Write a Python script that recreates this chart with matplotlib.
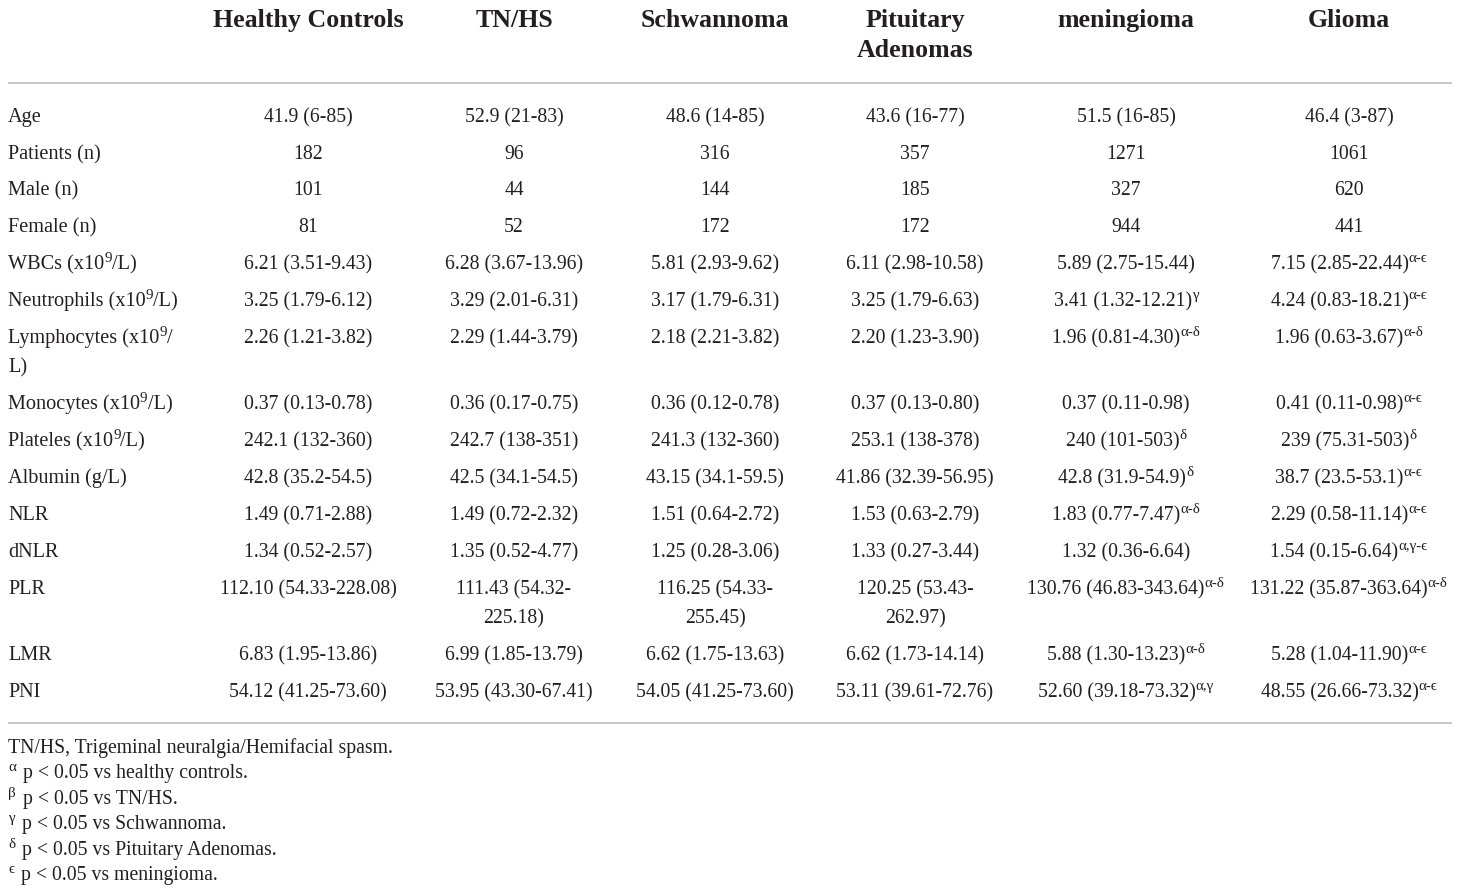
import re
import matplotlib
matplotlib.use("Agg")
import matplotlib.pyplot as plt

# ---------------- data ----------------
groups = ["Healthy Controls", "TN/HS", "Schwannoma", "Pituitary\nAdenomas", "meningioma", "Glioma"]

row_labels = [
    "Age", "Patients (n)", "Male (n)", "Female (n)",
    "WBCs (x10{9}/L)", "Neutrophils (x10{9}/L)", "Lymphocytes (x10{9}/\nL)",
    "Monocytes (x10{9}/L)", "Plateles (x10{9}/L)", "Albumin (g/L)",
    "NLR", "dNLR", "PLR", "LMR", "PNI",
]

healthy = ["41.9 (6-85)", "182", "101", "81", "6.21 (3.51-9.43)", "3.25 (1.79-6.12)",
           "2.26 (1.21-3.82)", "0.37 (0.13-0.78)", "242.1 (132-360)", "42.8 (35.2-54.5)",
           "1.49 (0.71-2.88)", "1.34 (0.52-2.57)", "112.10 (54.33-228.08)",
           "6.83 (1.95-13.86)", "54.12 (41.25-73.60)"]
tnhs = ["52.9 (21-83)", "96", "44", "52", "6.28 (3.67-13.96)", "3.29 (2.01-6.31)",
        "2.29 (1.44-3.79)", "0.36 (0.17-0.75)", "242.7 (138-351)", "42.5 (34.1-54.5)",
        "1.49 (0.72-2.32)", "1.35 (0.52-4.77)", "111.43 (54.32-\n225.18)",
        "6.99 (1.85-13.79)", "53.95 (43.30-67.41)"]
schwannoma = ["48.6 (14-85)", "316", "144", "172", "5.81 (2.93-9.62)", "3.17 (1.79-6.31)",
              "2.18 (2.21-3.82)", "0.36 (0.12-0.78)", "241.3 (132-360)", "43.15 (34.1-59.5)",
              "1.51 (0.64-2.72)", "1.25 (0.28-3.06)", "116.25 (54.33-\n255.45)",
              "6.62 (1.75-13.63)", "54.05 (41.25-73.60)"]
pituitary = ["43.6 (16-77)", "357", "185", "172", "6.11 (2.98-10.58)", "3.25 (1.79-6.63)",
             "2.20 (1.23-3.90)", "0.37 (0.13-0.80)", "253.1 (138-378)", "41.86 (32.39-56.95)",
             "1.53 (0.63-2.79)", "1.33 (0.27-3.44)", "120.25 (53.43-\n262.97)",
             "6.62 (1.73-14.14)", "53.11 (39.61-72.76)"]
meningioma = ["51.5 (16-85)", "1271", "327", "944", "5.89 (2.75-15.44)", "3.41 (1.32-12.21){γ}",
              "1.96 (0.81-4.30){α-δ}", "0.37 (0.11-0.98)", "240 (101-503){δ}", "42.8 (31.9-54.9){δ}",
              "1.83 (0.77-7.47){α-δ}", "1.32 (0.36-6.64)", "130.76 (46.83-343.64){α-δ}",
              "5.88 (1.30-13.23){α-δ}", "52.60 (39.18-73.32){α,γ}"]
glioma = ["46.4 (3-87)", "1061", "620", "441", "7.15 (2.85-22.44){α-ϵ}", "4.24 (0.83-18.21){α-ϵ}",
          "1.96 (0.63-3.67){α-δ}", "0.41 (0.11-0.98){α-ϵ}", "239 (75.31-503){δ}", "38.7 (23.5-53.1){α-ϵ}",
          "2.29 (0.58-11.14){α-ϵ}", "1.54 (0.15-6.64){α,γ-ϵ}", "131.22 (35.87-363.64){α-δ}",
          "5.28 (1.04-11.90){α-ϵ}", "48.55 (26.66-73.32){α-ϵ}"]
columns = [healthy, tnhs, schwannoma, pituitary, meningioma, glioma]

footnotes = [
    "TN/HS, Trigeminal neuralgia/Hemifacial spasm.",
    "{α} p < 0.05 vs healthy controls.",
    "{β} p < 0.05 vs TN/HS.",
    "{γ} p < 0.05 vs Schwannoma.",
    "{δ} p < 0.05 vs Pituitary Adenomas.",
    "{ϵ} p < 0.05 vs meningioma.",
]

# ---------------- layout ----------------
W, H = 1460, 892
DPI = 100
FAM = ["Liberation Serif", "DejaVu Serif"]
TXT = "#231f20"
BODY = 14.2
LABEL = 14.6
HEAD = 18.6
FOOT = 14.2
SUP = 10.8
SUP_RISE = 7.5
LINE = 29

col_x = [308, 514, 715, 915, 1126, 1349]
label_x = 8
row_y = [115, 152, 188, 225, 262, 299, 336, 402, 439, 476, 513, 550, 587, 653, 690]
head_y = 18
rule_y = [83, 723]
foot_y = [746, 771, 797, 822, 848, 873]

fig = plt.figure(figsize=(W / DPI, H / DPI), dpi=DPI)
fig.patch.set_facecolor("white")
ax = fig.add_axes([0, 0, 1, 1])
ax.set_xlim(0, W)
ax.set_ylim(H, 0)
ax.axis("off")
renderer = fig.canvas.get_renderer()


def parse(s):
    parts = re.split(r"(\{[^}]*\})", s)
    segs = []
    for p in parts:
        if not p:
            continue
        if p.startswith("{"):
            segs.append((p[1:-1], True))
        else:
            segs.append((p, False))
    return segs


def width_of(text, size, weight="normal"):
    t = ax.text(0, 0, text, fontsize=size, family=FAM, fontweight=weight)
    bb = t.get_window_extent(renderer)
    t.remove()
    return bb.width


def draw_line(s, x, yc, ha="center", size=BODY, weight="normal", gap=0):
    segs = parse(s)
    widths = []
    for txt, sup in segs:
        widths.append(width_of(txt, SUP if sup else size, weight))
    total = sum(widths)
    cx = x - total / 2 if ha == "center" else x
    base = yc + size * 0.36 + 2
    for (txt, sup), w in zip(segs, widths):
        ax.text(cx, base - (SUP_RISE if sup else 0), txt,
                fontsize=SUP if sup else size, family=FAM, fontweight=weight,
                color=TXT, ha="left", va="baseline")
        cx += w + (gap if sup else 0)


def draw_cell(s, x, yc, ha="center", size=BODY, weight="normal", line=LINE):
    for i, ln in enumerate(s.split("\n")):
        draw_line(ln, x, yc + i * line, ha=ha, size=size, weight=weight)


# header
for g, x in zip(groups, col_x):
    draw_cell(g, x, head_y, size=HEAD, weight="bold", line=30)

# rules
for y in rule_y:
    ax.plot([8, 1452], [y, y], color="#c8c8c8", lw=1.4, solid_capstyle="butt")

# body
for i, (lab, y) in enumerate(zip(row_labels, row_y)):
    draw_cell(lab, label_x, y, ha="left", size=LABEL)
    for col, x in zip(columns, col_x):
        draw_cell(col[i], x, y)

# footnotes
for fn, y in zip(footnotes, foot_y):
    draw_line(fn, label_x, y, ha="left", size=FOOT, gap=2)

fig.savefig("out.png", dpi=DPI, facecolor="white")
